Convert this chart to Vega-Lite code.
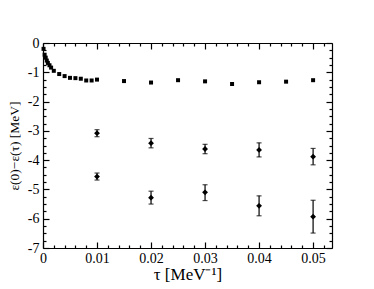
{
  "$schema": "https://vega.github.io/schema/vega-lite/v6.json",
  "width": 289,
  "height": 205,
  "autosize": {"type": "none"},
  "padding": {"left": 43, "top": 43, "right": 42, "bottom": 41},
  "background": "white",
  "config": {
    "view": {"stroke": null},
    "axis": {
      "domainColor": "black", "tickColor": "black", "labelColor": "black", "titleColor": "black",
      "labelFont": "Liberation Serif", "titleFont": "Liberation Serif",
      "labelFontSize": 14, "titleFontSize": 16, "titleFontWeight": "normal",
      "grid": false, "domainWidth": 1.2, "tickWidth": 1.2
    }
  },
  "datasets": {
    "sq": [
      {"tau": 0.0001, "e": -0.2},
      {"tau": 0.0003, "e": -0.4},
      {"tau": 0.0005, "e": -0.5},
      {"tau": 0.0007, "e": -0.6},
      {"tau": 0.0009, "e": -0.68},
      {"tau": 0.0012, "e": -0.76},
      {"tau": 0.0015, "e": -0.84},
      {"tau": 0.002, "e": -0.95},
      {"tau": 0.003, "e": -1.06},
      {"tau": 0.004, "e": -1.13},
      {"tau": 0.005, "e": -1.19},
      {"tau": 0.006, "e": -1.2},
      {"tau": 0.007, "e": -1.22},
      {"tau": 0.008, "e": -1.28},
      {"tau": 0.009, "e": -1.28},
      {"tau": 0.01, "e": -1.25},
      {"tau": 0.015, "e": -1.3},
      {"tau": 0.02, "e": -1.35},
      {"tau": 0.025, "e": -1.27},
      {"tau": 0.03, "e": -1.31},
      {"tau": 0.035, "e": -1.4},
      {"tau": 0.04, "e": -1.34},
      {"tau": 0.045, "e": -1.32},
      {"tau": 0.05, "e": -1.27}
    ],
    "dm": [
      {"tau": 0.01, "e": -3.08, "lo": -3.2, "hi": -2.96},
      {"tau": 0.02, "e": -3.42, "lo": -3.58, "hi": -3.26},
      {"tau": 0.03, "e": -3.62, "lo": -3.78, "hi": -3.46},
      {"tau": 0.04, "e": -3.65, "lo": -3.89, "hi": -3.41},
      {"tau": 0.05, "e": -3.88, "lo": -4.16, "hi": -3.6},
      {"tau": 0.01, "e": -4.56, "lo": -4.68, "hi": -4.44},
      {"tau": 0.02, "e": -5.28, "lo": -5.5, "hi": -5.06},
      {"tau": 0.03, "e": -5.1, "lo": -5.38, "hi": -4.84},
      {"tau": 0.04, "e": -5.56, "lo": -5.9, "hi": -5.22},
      {"tau": 0.05, "e": -5.93, "lo": -6.49, "hi": -5.37}
    ]
  },
  "layer": [
    {
      "data": {"name": "sq"},
      "mark": {"type": "square", "size": 16, "filled": true, "color": "black", "opacity": 1},
      "encoding": {
        "x": {"field": "tau", "type": "quantitative", "scale": {"domain": [0, 0.0535], "nice": false, "zero": false},
          "axis": {"orient": "bottom", "title": "τ [MeV⁻¹]", "titleFontSize": 17, "values": [0, 0.01, 0.02, 0.03, 0.04, 0.05], "tickSize": -6, "labelPadding": 9, "labelExpr": "'' + datum.value", "titlePadding": 1, "labelFlush": false}},
        "y": {"field": "e", "type": "quantitative", "scale": {"domain": [-7, 0], "nice": false, "zero": false},
          "axis": {"orient": "left", "title": "ε(0)−ε(τ) [MeV]", "titleFontSize": 13.5, "values": [-7, -6, -5, -4, -3, -2, -1, 0], "tickSize": -6, "labelPadding": 10, "labelExpr": "'' + datum.value", "titlePadding": 6, "labelFlush": false}}
      }
    },
    {
      "data": {"name": "dm"},
      "mark": {"type": "rule", "color": "black", "strokeWidth": 1.2},
      "encoding": {
        "x": {"field": "tau", "type": "quantitative", "scale": {"domain": [0, 0.0535], "nice": false, "zero": false},
          "axis": {"orient": "top", "title": null, "values": [0, 0.01, 0.02, 0.03, 0.04, 0.05], "tickSize": -6, "labels": false, "domain": true}},
        "y": {"field": "lo", "type": "quantitative", "scale": {"domain": [-7, 0], "nice": false, "zero": false},
          "axis": {"orient": "right", "title": null, "values": [-7, -6, -5, -4, -3, -2, -1, 0], "tickSize": -6, "labels": false, "domain": true}},
        "y2": {"field": "hi"}
      }
    },
    {
      "data": {"name": "dm"},
      "mark": {"type": "tick", "orient": "horizontal", "color": "black", "thickness": 1.2, "size": 5},
      "encoding": {
        "x": {"field": "tau", "type": "quantitative",
          "axis": {"orient": "bottom", "title": null, "values": [0.002, 0.004, 0.006, 0.008, 0.012, 0.014, 0.016, 0.018, 0.022, 0.024, 0.026, 0.028, 0.032, 0.034, 0.036, 0.038, 0.042, 0.044, 0.046, 0.048, 0.052], "tickSize": -3, "labels": false, "domain": false}},
        "y": {"field": "lo", "type": "quantitative",
          "axis": {"orient": "left", "title": null, "values": [-6.75, -6.5, -6.25, -5.75, -5.5, -5.25, -4.75, -4.5, -4.25, -3.75, -3.5, -3.25, -2.75, -2.5, -2.25, -1.75, -1.5, -1.25, -0.75, -0.5, -0.25], "tickSize": -3, "labels": false, "domain": false}}
      }
    },
    {
      "data": {"name": "dm"},
      "mark": {"type": "tick", "orient": "horizontal", "color": "black", "thickness": 1.2, "size": 5},
      "encoding": {
        "x": {"field": "tau", "type": "quantitative",
          "axis": {"orient": "top", "title": null, "values": [0.002, 0.004, 0.006, 0.008, 0.012, 0.014, 0.016, 0.018, 0.022, 0.024, 0.026, 0.028, 0.032, 0.034, 0.036, 0.038, 0.042, 0.044, 0.046, 0.048, 0.052], "tickSize": -3, "labels": false, "domain": false}},
        "y": {"field": "hi", "type": "quantitative",
          "axis": {"orient": "right", "title": null, "values": [-6.75, -6.5, -6.25, -5.75, -5.5, -5.25, -4.75, -4.5, -4.25, -3.75, -3.5, -3.25, -2.75, -2.5, -2.25, -1.75, -1.5, -1.25, -0.75, -0.5, -0.25], "tickSize": -3, "labels": false, "domain": false}}
      }
    },
    {
      "data": {"name": "dm"},
      "mark": {"type": "point", "shape": "diamond", "size": 34, "filled": true, "color": "black", "opacity": 1},
      "encoding": {
        "x": {"field": "tau", "type": "quantitative", "axis": null},
        "y": {"field": "e", "type": "quantitative", "axis": null}
      }
    }
  ],
  "resolve": {"axis": {"x": "independent", "y": "independent"}}
}
